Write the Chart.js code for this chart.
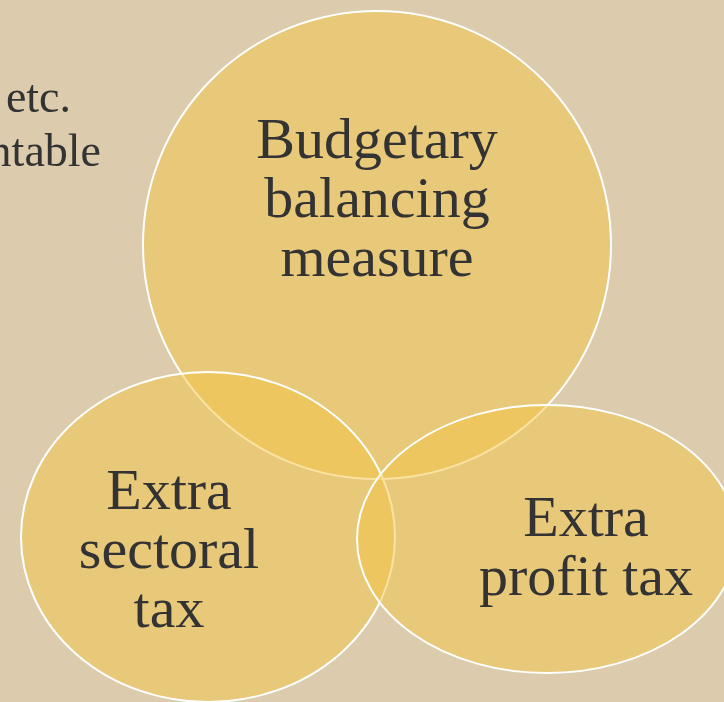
<!DOCTYPE html>
<html>
<head>
<meta charset="utf-8">
<script src="https://cdn.jsdelivr.net/npm/chart.js@4"></script>
<style>
  html, body { margin: 0; padding: 0; background: #dccbac; overflow: hidden; }
  #wrap { position: relative; width: 724px; height: 702px; }
</style>
</head>
<body>
<div id="wrap"><canvas id="venn"></canvas></div>
<script>
// Three overlapping sets of the Venn diagram
const sets = ['Budgetary balancing measure', 'Extra sectoral tax', 'Extra profit tax'];
const labelLines = [['Budgetary', 'balancing', 'measure'], ['Extra', 'sectoral', 'tax'], ['Extra', 'profit tax']];
// Set centres and radii in diagram units
const centerX = [377, 208, 547];
const centerY = [245, 537, 539];
const radiusX = [234, 187, 190];
const radiusY = [234, 165, 134];
// Anchor (middle baseline) of each set's caption
const labelX = [377, 169, 586];
const labelY = [217, 568, 565];
// Fragments of the slide text running behind the diagram
const backText = ['etc.', 'ntable'];
const backTextX = [71, 101];
const backTextY = [112, 166];

const FILL = 'rgba(244, 197, 69, 0.5)';
const TEXT = '#333333';
const FONT = '"Liberation Serif", "Times New Roman", serif';

const vennPlugin = {
  id: 'venn',
  beforeDatasetsDraw(chart) {
    const { ctx, scales: { x, y } } = chart;
    ctx.save();
    // background slide text
    ctx.fillStyle = TEXT;
    ctx.font = '46px ' + FONT;
    ctx.textAlign = 'right';
    ctx.textBaseline = 'alphabetic';
    backText.forEach((t, i) => {
      ctx.fillText(t, x.getPixelForValue(backTextX[i]), y.getPixelForValue(backTextY[i]));
    });
    // translucent set shapes, drawn in order so later outlines sit on top
    sets.forEach((name, i) => {
      const cx = x.getPixelForValue(centerX[i]);
      const cy = y.getPixelForValue(centerY[i]);
      const rx = Math.abs(x.getPixelForValue(centerX[i] + radiusX[i]) - cx);
      const ry = Math.abs(y.getPixelForValue(centerY[i] + radiusY[i]) - cy);
      ctx.beginPath();
      ctx.ellipse(cx, cy, rx, ry, 0, 0, Math.PI * 2);
      ctx.fillStyle = FILL;
      ctx.fill();
      ctx.lineWidth = 2;
      ctx.strokeStyle = '#ffffff';
      ctx.stroke();
    });
    // captions
    ctx.fillStyle = TEXT;
    ctx.font = '58px ' + FONT;
    ctx.textAlign = 'center';
    const lh = 59;
    labelLines.forEach((lines, i) => {
      const px = x.getPixelForValue(labelX[i]);
      const py = y.getPixelForValue(labelY[i]);
      lines.forEach((ln, k) => {
        ctx.fillText(ln, px, py + (k - (lines.length - 1) / 2) * lh);
      });
    });
    ctx.restore();
  }
};

new Chart(document.getElementById('venn'), {
  type: 'scatter',
  data: {
    datasets: [{
      label: 'Sets',
      data: sets.map((s, i) => ({ x: centerX[i], y: centerY[i] })),
      pointRadius: 0,
      pointHoverRadius: 0
    }]
  },
  options: {
    responsive: true,
    maintainAspectRatio: false,
    animation: false,
    layout: { padding: 0 },
    plugins: { legend: { display: false }, tooltip: { enabled: false } },
    events: [],
    scales: {
      x: { type: 'linear', min: 0, max: 724, display: false },
      y: { type: 'linear', min: 0, max: 702, reverse: true, display: false }
    }
  },
  plugins: [vennPlugin]
});
</script>
</body>
</html>
